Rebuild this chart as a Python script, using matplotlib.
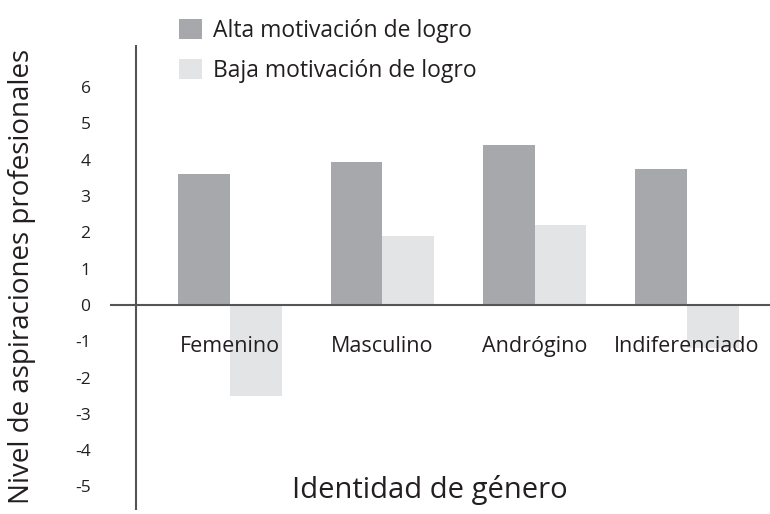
import matplotlib
matplotlib.use("Agg")
import matplotlib.pyplot as plt
import numpy as np

# datos
categorias = ["Femenino", "Masculino", "Andrógino", "Indiferenciado"]
alta = [3.6, 3.95, 4.4, 3.75]
baja = [-2.5, 1.9, 2.2, -1.2]
series = ["Alta motivación de logro", "Baja motivación de logro"]
yticks = [6, 5, 4, 3, 2, 1, 0, -1, -2, -3, -4, -5]

plt.rcParams["font.family"] = ["Open Sans", "DejaVu Sans"]
TXT = "#231f20"
C_ALTA = "#a7a8ab"
C_BAJA = "#e3e4e6"


def main():
    fig = plt.figure(figsize=(7.7, 5.14), dpi=100)
    # ejes en px: x 110..770, y 45..510
    ax = fig.add_axes([110 / 770, 1 - 510 / 514, 660 / 770, 465 / 514])

    x = np.arange(len(categorias))
    w = 0.34
    ax.bar(x - w / 2, alta, w, color=C_ALTA, label=series[0], zorder=2)
    ax.bar(x + w / 2, baja, w, color=C_BAJA, label=series[1], zorder=2)

    ax.set_xlim(-0.788, 3.545)
    ax.set_ylim(-5.65, 7.16)

    for s in ax.spines.values():
        s.set_visible(False)
    ax.axhline(0, color="#555555", lw=1.5, zorder=3)
    ax.axvline(-0.617, color="#555555", lw=1.5, zorder=3)

    ax.set_xticks([])
    ax.set_yticks(yticks)
    ax.set_yticklabels([str(t) for t in yticks])
    ax.tick_params(axis="y", length=0, pad=14, labelsize=12.5, labelcolor=TXT)

    for i, c in enumerate(categorias):
        ax.text(x[i], -1.3, c, ha="center", va="baseline", fontsize=15.5,
                color=TXT, zorder=4)

    fig.text(22 / 770, 1 - 276 / 514, "Nivel de aspiraciones profesionales",
             rotation=90, ha="center", va="center", fontsize=20, color=TXT)
    fig.text(430 / 770, 1 - 490 / 514, "Identidad de género",
             ha="center", va="center", fontsize=21, color=TXT)

    ax.legend(loc="upper left", bbox_to_anchor=(158 / 770, 1 + 2 / 514),
              bbox_transform=fig.transFigure, frameon=False, fontsize=16.5,
              handlelength=1.0, handleheight=1.0, handletextpad=0.5,
              labelspacing=0.7, labelcolor=TXT)

    fig.savefig("out.png", dpi=100)


if __name__ == "__main__":
    main()
